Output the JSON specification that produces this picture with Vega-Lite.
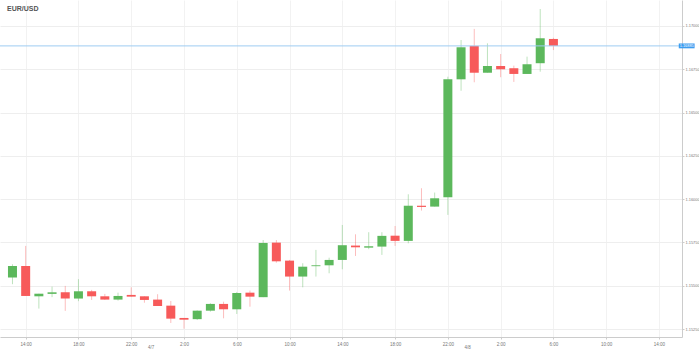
{
  "$schema": "https://vega.github.io/schema/vega-lite/v6.json",
  "width": 682,
  "height": 337,
  "padding": {"left": 0, "top": 0, "right": 17, "bottom": 15},
  "autosize": {"type": "none"},
  "title": {"text": "EUR/USD", "anchor": "start", "frame": "group", "offset": -12, "dx": 7, "fontSize": 7, "fontWeight": "bold", "color": "#555"},
  "config": {"view": {"stroke": null}, "axis": {"labelOverlap": false, "labelSeparation": 0}},
  "data": {"values": [
      {"t": "2021-04-06T13:00:00Z", "o": 1.15547, "h": 1.15624, "l": 1.15509, "c": 1.15614},
      {"t": "2021-04-06T14:00:00Z", "o": 1.15614, "h": 1.15730, "l": 1.15441, "c": 1.15441},
      {"t": "2021-04-06T15:00:00Z", "o": 1.15439, "h": 1.15454, "l": 1.15368, "c": 1.15454},
      {"t": "2021-04-06T16:00:00Z", "o": 1.15453, "h": 1.15495, "l": 1.15434, "c": 1.15462},
      {"t": "2021-04-06T17:00:00Z", "o": 1.15462, "h": 1.15499, "l": 1.15355, "c": 1.15426},
      {"t": "2021-04-06T18:00:00Z", "o": 1.15426, "h": 1.15538, "l": 1.15411, "c": 1.15468},
      {"t": "2021-04-06T19:00:00Z", "o": 1.15468, "h": 1.15476, "l": 1.15418, "c": 1.15439},
      {"t": "2021-04-06T20:00:00Z", "o": 1.15439, "h": 1.15453, "l": 1.15418, "c": 1.15420},
      {"t": "2021-04-06T21:00:00Z", "o": 1.15420, "h": 1.15460, "l": 1.15414, "c": 1.15441},
      {"t": "2021-04-06T22:00:00Z", "o": 1.15447, "h": 1.15491, "l": 1.15437, "c": 1.15437},
      {"t": "2021-04-06T23:00:00Z", "o": 1.15439, "h": 1.15439, "l": 1.15402, "c": 1.15418},
      {"t": "2021-04-07T00:00:00Z", "o": 1.15420, "h": 1.15451, "l": 1.15383, "c": 1.15383},
      {"t": "2021-04-07T01:00:00Z", "o": 1.15385, "h": 1.15412, "l": 1.15285, "c": 1.15310},
      {"t": "2021-04-07T02:00:00Z", "o": 1.15314, "h": 1.15314, "l": 1.15252, "c": 1.15304},
      {"t": "2021-04-07T03:00:00Z", "o": 1.15307, "h": 1.15358, "l": 1.15302, "c": 1.15356},
      {"t": "2021-04-07T04:00:00Z", "o": 1.15356, "h": 1.15399, "l": 1.15350, "c": 1.15395},
      {"t": "2021-04-07T05:00:00Z", "o": 1.15395, "h": 1.15408, "l": 1.15312, "c": 1.15364},
      {"t": "2021-04-07T06:00:00Z", "o": 1.15364, "h": 1.15464, "l": 1.15337, "c": 1.15458},
      {"t": "2021-04-07T07:00:00Z", "o": 1.15460, "h": 1.15472, "l": 1.15379, "c": 1.15437},
      {"t": "2021-04-07T08:00:00Z", "o": 1.15434, "h": 1.15764, "l": 1.15434, "c": 1.15747},
      {"t": "2021-04-07T09:00:00Z", "o": 1.15749, "h": 1.15764, "l": 1.15633, "c": 1.15641},
      {"t": "2021-04-07T10:00:00Z", "o": 1.15645, "h": 1.15649, "l": 1.15472, "c": 1.15553},
      {"t": "2021-04-07T11:00:00Z", "o": 1.15553, "h": 1.15630, "l": 1.15491, "c": 1.15610},
      {"t": "2021-04-07T12:00:00Z", "o": 1.15613, "h": 1.15707, "l": 1.15553, "c": 1.15618},
      {"t": "2021-04-07T13:00:00Z", "o": 1.15618, "h": 1.15662, "l": 1.15572, "c": 1.15649},
      {"t": "2021-04-07T14:00:00Z", "o": 1.15649, "h": 1.15851, "l": 1.15595, "c": 1.15734},
      {"t": "2021-04-07T15:00:00Z", "o": 1.15732, "h": 1.15797, "l": 1.15672, "c": 1.15722},
      {"t": "2021-04-07T16:00:00Z", "o": 1.15720, "h": 1.15809, "l": 1.15711, "c": 1.15728},
      {"t": "2021-04-07T17:00:00Z", "o": 1.15726, "h": 1.15809, "l": 1.15678, "c": 1.15788},
      {"t": "2021-04-07T18:00:00Z", "o": 1.15789, "h": 1.15845, "l": 1.15730, "c": 1.15759},
      {"t": "2021-04-07T19:00:00Z", "o": 1.15759, "h": 1.16028, "l": 1.15745, "c": 1.15962},
      {"t": "2021-04-07T20:00:00Z", "o": 1.15962, "h": 1.16063, "l": 1.15934, "c": 1.15955},
      {"t": "2021-04-07T21:00:00Z", "o": 1.15957, "h": 1.16038, "l": 1.15957, "c": 1.16005},
      {"t": "2021-04-07T22:00:00Z", "o": 1.16011, "h": 1.16707, "l": 1.15909, "c": 1.16692},
      {"t": "2021-04-07T23:00:00Z", "o": 1.16692, "h": 1.16919, "l": 1.16626, "c": 1.16877},
      {"t": "2021-04-08T00:00:00Z", "o": 1.16885, "h": 1.16983, "l": 1.16675, "c": 1.16730},
      {"t": "2021-04-08T01:00:00Z", "o": 1.16730, "h": 1.16900, "l": 1.16730, "c": 1.16769},
      {"t": "2021-04-08T02:00:00Z", "o": 1.16769, "h": 1.16838, "l": 1.16704, "c": 1.16750},
      {"t": "2021-04-08T03:00:00Z", "o": 1.16756, "h": 1.16771, "l": 1.16677, "c": 1.16723},
      {"t": "2021-04-08T04:00:00Z", "o": 1.16723, "h": 1.16823, "l": 1.16723, "c": 1.16779},
      {"t": "2021-04-08T05:00:00Z", "o": 1.16785, "h": 1.17098, "l": 1.16736, "c": 1.16929},
      {"t": "2021-04-08T06:00:00Z", "o": 1.16925, "h": 1.16932, "l": 1.16861, "c": 1.16885}
  ]},
  "layer": [
    {
      "mark": {"type": "rule", "opacity": 0.4},
      "encoding": {
        "x": {
          "field": "t",
          "type": "temporal",
          "title": null,
          "scale": {"type": "utc", "domain": [{"year": 2021, "month": 4, "date": 6, "hours": 12, "minutes": 26, "utc": true}, {"year": 2021, "month": 4, "date": 8, "hours": 15, "minutes": 22, "utc": true}], "nice": false},
          "axis": {
            "values": [
              {"year": 2021, "month": 4, "date": 6, "hours": 14, "utc": true},
              {"year": 2021, "month": 4, "date": 6, "hours": 16, "utc": true},
              {"year": 2021, "month": 4, "date": 6, "hours": 18, "utc": true},
              {"year": 2021, "month": 4, "date": 6, "hours": 20, "utc": true},
              {"year": 2021, "month": 4, "date": 6, "hours": 22, "utc": true},
              {"year": 2021, "month": 4, "date": 7, "hours": 0, "utc": true},
              {"year": 2021, "month": 4, "date": 7, "hours": 2, "utc": true},
              {"year": 2021, "month": 4, "date": 7, "hours": 4, "utc": true},
              {"year": 2021, "month": 4, "date": 7, "hours": 6, "utc": true},
              {"year": 2021, "month": 4, "date": 7, "hours": 8, "utc": true},
              {"year": 2021, "month": 4, "date": 7, "hours": 10, "utc": true},
              {"year": 2021, "month": 4, "date": 7, "hours": 12, "utc": true},
              {"year": 2021, "month": 4, "date": 7, "hours": 14, "utc": true},
              {"year": 2021, "month": 4, "date": 7, "hours": 16, "utc": true},
              {"year": 2021, "month": 4, "date": 7, "hours": 18, "utc": true},
              {"year": 2021, "month": 4, "date": 7, "hours": 20, "utc": true},
              {"year": 2021, "month": 4, "date": 7, "hours": 22, "utc": true},
              {"year": 2021, "month": 4, "date": 8, "hours": 0, "utc": true},
              {"year": 2021, "month": 4, "date": 8, "hours": 2, "utc": true},
              {"year": 2021, "month": 4, "date": 8, "hours": 4, "utc": true},
              {"year": 2021, "month": 4, "date": 8, "hours": 6, "utc": true},
              {"year": 2021, "month": 4, "date": 8, "hours": 8, "utc": true},
              {"year": 2021, "month": 4, "date": 8, "hours": 10, "utc": true},
              {"year": 2021, "month": 4, "date": 8, "hours": 12, "utc": true},
              {"year": 2021, "month": 4, "date": 8, "hours": 14, "utc": true}
            ],
            "labelExpr": "utcFormat(datum.value, '%H') == '00' ? '' : toNumber(utcFormat(datum.value, '%H')) + ':00'",
            "labelFontSize": 4.5,
            "labelColor": "#777",
            "labelPadding": 2,
            "labelOverlap": false,
            "labelSeparation": 0,
            "labelBound": false,
            "tickSize": 2,
            "tickColor": "#ccc",
            "domainColor": "#ccc",
            "gridColor": "#f2f2f2"
          }
        },
        "y": {
          "field": "l",
          "type": "quantitative",
          "title": null,
          "scale": {"domain": [1.15204, 1.1715], "nice": false, "zero": false},
          "axis": {"orient": "right", "values": [1.1525, 1.155, 1.1575, 1.16, 1.1625, 1.165, 1.1675, 1.17], "format": ".5f", "labelFontSize": 3.9, "labelColor": "#777", "labelPadding": 1, "tickSize": 2, "tickColor": "#ccc", "domainColor": "#ccc", "gridColor": "#eeeeee"}
        },
        "y2": {"field": "h"},
        "color": {"condition": {"test": "datum.c >= datum.o", "value": "#5cb85c"}, "value": "#f75a5a"}
      }
    },
    {
      "mark": {"type": "bar", "size": 9},
      "encoding": {
        "x": {"field": "t", "type": "temporal"},
        "y": {"field": "o", "type": "quantitative"},
        "y2": {"field": "c"},
        "color": {"condition": {"test": "datum.c >= datum.o", "value": "#5cb85c"}, "value": "#f75a5a"}
      }
    },
    {
      "data": {"values": [{"p": 1.16885}]},
      "mark": {"type": "rule", "color": "#9fcdf2", "strokeWidth": 1},
      "encoding": {"y": {"field": "p", "type": "quantitative"}}
    },
    {
      "data": {"values": [{"t1": "2021-04-08T15:30:00Z", "t2": "2021-04-08T16:42:00Z", "lo": 1.16871, "hi": 1.16899}]},
      "mark": {"type": "rect", "color": "#3d9df0", "clip": false},
      "encoding": {
        "x": {"field": "t1", "type": "temporal"},
        "x2": {"field": "t2"},
        "y": {"field": "lo", "type": "quantitative"},
        "y2": {"field": "hi"}
      }
    },
    {
      "data": {"values": [{"t": "2021-04-08T16:06:00Z", "p": 1.16885, "label": "1.16885"}]},
      "mark": {"type": "text", "color": "white", "fontSize": 3.9, "clip": false, "align": "center", "baseline": "middle"},
      "encoding": {
        "x": {"field": "t", "type": "temporal"},
        "y": {"field": "p", "type": "quantitative"},
        "text": {"field": "label"}
      }
    },
    {
      "data": {"values": [
        {"t": "2021-04-06T23:30:00Z", "p": 1.15141, "label": "4/7"},
        {"t": "2021-04-07T23:30:00Z", "p": 1.15141, "label": "4/8"}
      ]},
      "mark": {"type": "text", "color": "#777", "fontSize": 4.5, "clip": false, "align": "center", "baseline": "middle"},
      "encoding": {
        "x": {"field": "t", "type": "temporal"},
        "y": {"field": "p", "type": "quantitative"},
        "text": {"field": "label"}
      }
    }
  ]
}
